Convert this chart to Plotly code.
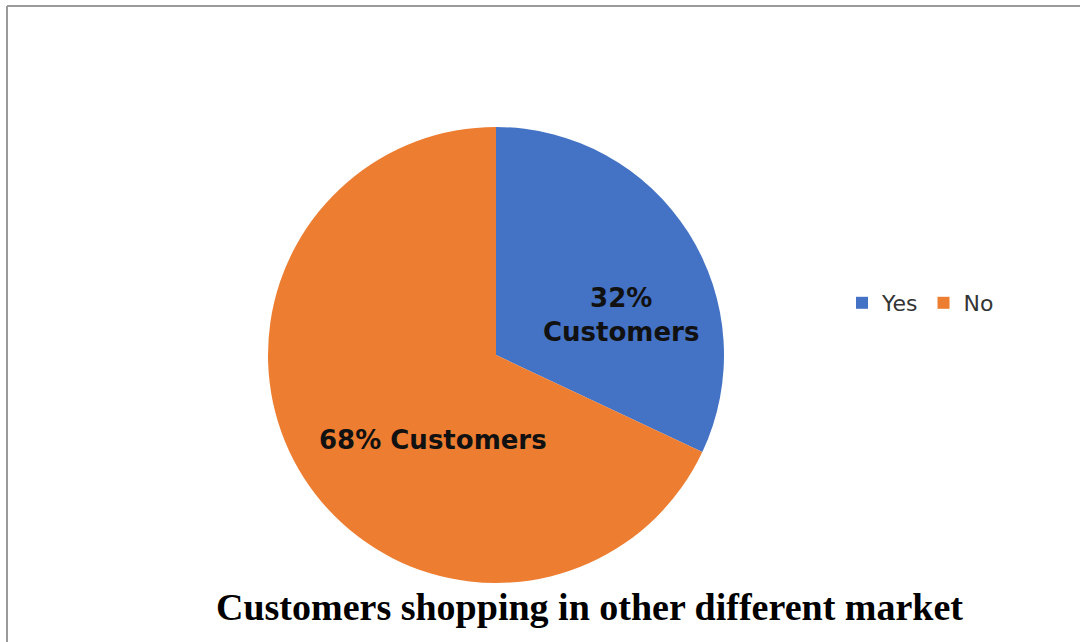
import plotly.graph_objects as go

# Survey answers: do customers also shop in other markets?
labels = ["Yes", "No"]
shares = [32, 68]
colors = ["#4472C4", "#ED7D31"]
title_text = "Customers shopping in other different market"

W, H = 1080, 642
cx, cy, d = 496, 355, 456  # pie centre / diameter in pixels

fig = go.Figure(
    go.Pie(
        labels=labels,
        values=shares,
        marker=dict(colors=colors, line=dict(width=0)),
        sort=False,
        direction="clockwise",
        rotation=0,
        textinfo="none",
        hoverinfo="label+percent",
        domain=dict(
            x=[(cx - d / 2) / W, (cx + d / 2) / W],
            y=[(H - cy - d / 2) / H, (H - cy + d / 2) / H],
        ),
    )
)

label_font = dict(family="DejaVu Sans, Arial Black, sans-serif", size=26, color="#111111")
fig.add_annotation(
    x=621 / W, y=1 - 315 / H, xref="paper", yref="paper",
    xanchor="center", yanchor="middle",
    text=f"<b>{shares[0]}%<br>Customers</b>", showarrow=False,
    font=label_font, align="center",
)
fig.add_annotation(
    x=433 / W, y=1 - 440 / H, xref="paper", yref="paper",
    xanchor="center", yanchor="middle",
    text=f"<b>{shares[1]}% Customers</b>", showarrow=False,
    font=label_font, align="center",
)
fig.add_annotation(
    x=589 / W, y=1 - 607 / H, xref="paper", yref="paper",
    xanchor="center", yanchor="middle",
    text=f"<b>{title_text}</b>", showarrow=False,
    font=dict(family="Liberation Serif, Times New Roman, serif", size=38, color="#000000"),
)

# thin grey frame along the top and left edges
fig.add_shape(type="line", xref="paper", yref="paper",
              x0=7 / W, x1=1, y0=1 - 6 / H, y1=1 - 6 / H,
              line=dict(color="#9a9a9a", width=2))
fig.add_shape(type="line", xref="paper", yref="paper",
              x0=7 / W, x1=7 / W, y0=0, y1=1 - 6 / H,
              line=dict(color="#9a9a9a", width=2))

fig.update_layout(
    width=W, height=H,
    margin=dict(l=0, r=0, t=0, b=0),
    paper_bgcolor="white",
    plot_bgcolor="white",
    showlegend=True,
    legend=dict(
        orientation="h",
        x=842 / W, y=1 - 303 / H, xanchor="left", yanchor="middle",
        font=dict(family="DejaVu Sans, sans-serif", size=22, color="#333333"),
        itemwidth=30,
        tracegroupgap=0,
    ),
)

fig.write_html("out.html")
